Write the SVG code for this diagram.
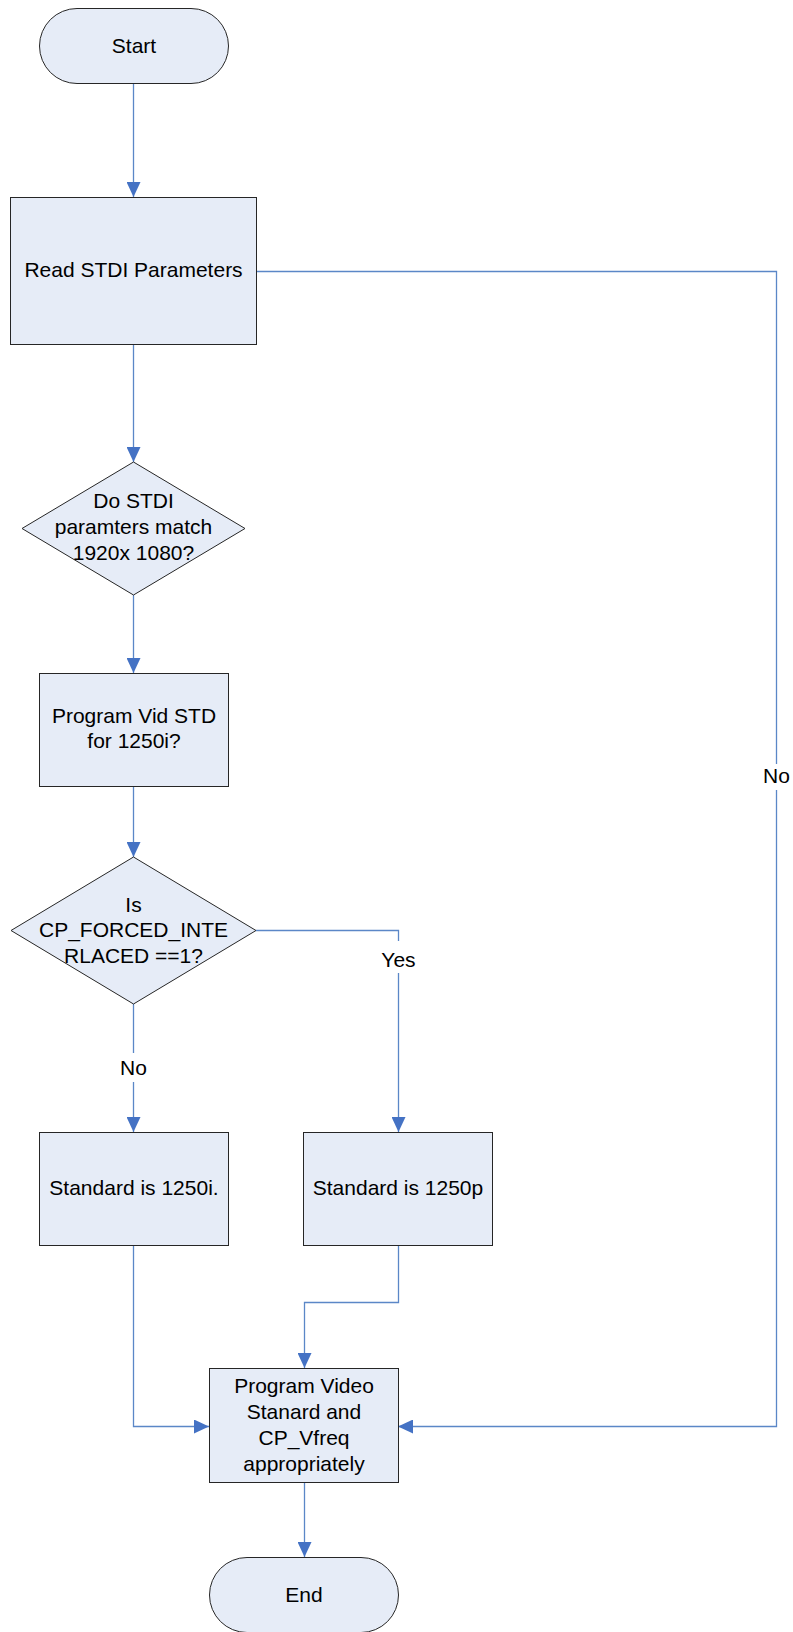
<svg xmlns="http://www.w3.org/2000/svg" width="793" height="1632" viewBox="0 0 793 1632">
  <style>
    .shape { fill: #E6ECF7; stroke: #262626; stroke-width: 1; }
    .lbl { font-family: "Liberation Sans", Arial, sans-serif; font-size: 21px; fill: #000; text-anchor: middle; }
    .conn { fill: none; stroke: #5B87C7; stroke-width: 1.3; }
    .gap { fill: #FFFFFF; stroke: none; }
  </style>
  <defs>
    <marker id="arrow" markerUnits="userSpaceOnUse" markerWidth="16" markerHeight="14" refX="15" refY="7" orient="auto">
      <path d="M0,0 L15,7 L0,14 Z" fill="#4472C4"/>
    </marker>
  </defs>
  <rect width="793" height="1632" fill="#FFFFFF"/>

  <!-- connectors -->
  <g id="connectors">
    <path class="conn" d="M133.5,83 V197" marker-end="url(#arrow)"/>
    <path class="conn" d="M133.5,344 V462" marker-end="url(#arrow)"/>
    <path class="conn" d="M133.5,595 V673" marker-end="url(#arrow)"/>
    <path class="conn" d="M133.5,786 V857" marker-end="url(#arrow)"/>
    <path class="conn" d="M133.5,1004 V1132" marker-end="url(#arrow)"/>
    <path class="conn" d="M256,930.5 H398.5 V1132" marker-end="url(#arrow)"/>
    <path class="conn" d="M133.5,1245 V1426.5 H209" marker-end="url(#arrow)"/>
    <path class="conn" d="M398.5,1245 V1302.5 H304.5 V1368" marker-end="url(#arrow)"/>
    <path class="conn" d="M256,271.5 H776.5 V1426.5 H398" marker-end="url(#arrow)"/>
    <path class="conn" d="M304.5,1482 V1557" marker-end="url(#arrow)"/>
    <!-- connector labels -->
    <rect class="gap" x="118" y="1053" width="31" height="29"/>
    <text class="lbl" x="133.5" y="1075">No</text>
    <rect class="gap" x="378" y="941" width="41" height="32"/>
    <text class="lbl" x="398.5" y="967">Yes</text>
    <rect class="gap" x="761" y="764" width="31" height="26"/>
    <text class="lbl" x="776.5" y="783">No</text>
  </g>

  <g id="start">
    <rect class="shape" x="39.5" y="8.5" width="189" height="75" rx="37.5" ry="37.5"/>
    <text class="lbl" x="134" y="53">Start</text>
  </g>

  <g id="read-stdi">
    <rect class="shape" x="10.5" y="197.5" width="246" height="147"/>
    <text class="lbl" x="133.5" y="277">Read STDI Parameters</text>
  </g>

  <g id="match-decision">
    <polygon class="shape" points="133.5,462 245,528.5 133.5,595 22,528.5"/>
    <text class="lbl" x="133.5" y="508">Do STDI</text>
    <text class="lbl" x="133.5" y="534">paramters match</text>
    <text class="lbl" x="133.5" y="560">1920x 1080?</text>
  </g>

  <g id="program-vid-std">
    <rect class="shape" x="39.5" y="673.5" width="189" height="113"/>
    <text class="lbl" x="134" y="723">Program Vid STD</text>
    <text class="lbl" x="134" y="748">for 1250i?</text>
  </g>

  <g id="interlaced-decision">
    <polygon class="shape" points="133.5,857 256,930.5 133.5,1004 11,930.5"/>
    <text class="lbl" x="133.5" y="912">Is</text>
    <text class="lbl" x="133.5" y="937">CP_FORCED_INTE</text>
    <text class="lbl" x="133.5" y="963">RLACED ==1?</text>
  </g>

  <g id="standard-1250i">
    <rect class="shape" x="39.5" y="1132.5" width="189" height="113"/>
    <text class="lbl" x="134" y="1195">Standard is 1250i.</text>
  </g>

  <g id="standard-1250p">
    <rect class="shape" x="303.5" y="1132.5" width="189" height="113"/>
    <text class="lbl" x="398" y="1195">Standard is 1250p</text>
  </g>

  <g id="program-video-standard">
    <rect class="shape" x="209.5" y="1368.5" width="189" height="114"/>
    <text class="lbl" x="304" y="1393">Program Video</text>
    <text class="lbl" x="304" y="1419">Stanard and</text>
    <text class="lbl" x="304" y="1445">CP_Vfreq</text>
    <text class="lbl" x="304" y="1471">appropriately</text>
  </g>

  <g id="end">
    <rect class="shape" x="209.5" y="1557.5" width="189" height="75" rx="37.5" ry="37.5"/>
    <text class="lbl" x="304" y="1602">End</text>
  </g>
</svg>
